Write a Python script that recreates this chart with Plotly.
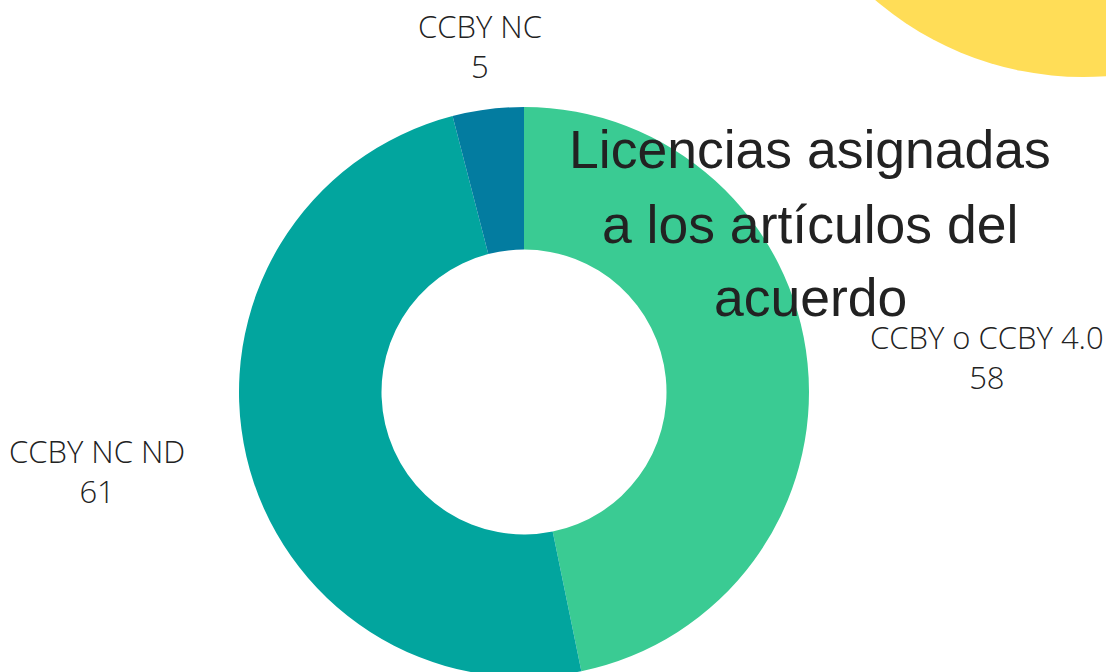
import plotly.graph_objects as go

# Data
licenses = ["CCBY o CCBY 4.0", "CCBY NC ND", "CCBY NC"]
counts = [58, 61, 5]
title_lines = ["Licencias asignadas", "a los artículos del", "acuerdo"]

# Styles
slice_colors = ["#3ACB93", "#02A59E", "#037CA0"]
W, H = 1106, 677
cx, cy, R = 524, 392, 285  # pixel centre / radius (from top)

fig = go.Figure()
fig.add_trace(go.Pie(
    labels=licenses,
    values=counts,
    hole=0.5,
    sort=False,
    direction="clockwise",
    rotation=0,
    marker=dict(colors=slice_colors, line=dict(width=0)),
    textinfo="none",
    hoverinfo="label+value",
    showlegend=False,
    domain=dict(x=[(cx - R) / W, (cx + R) / W], y=[(H - cy - R) / H, (H - cy + R) / H]),
))

# outside labels (pixel positions of the label centres)
label_pos = [(987, 357), (97, 471), (480, 46)]
for name, val, (px, py) in zip(licenses, counts, label_pos):
    fig.add_annotation(
        x=px / W, y=1 - py / H, xref="paper", yref="paper",
        text=f"{name}<br>{val}", showarrow=False,
        xanchor="center", yanchor="middle", align="center",
        font=dict(family="Open Sans", weight=300, size=31, color="#222222"),
    )

# title lines
title_pos = [(810, 150), (810, 224), (810, 297)]
for line, (px, py) in zip(title_lines, title_pos):
    fig.add_annotation(
        x=px / W, y=1 - py / H, xref="paper", yref="paper",
        text=line, showarrow=False, xanchor="center", yanchor="middle",
        font=dict(family="Liberation Sans", size=53.5, color="#222222"),
    )

# decorative yellow circle top-right
ccx, ccy, cr = 1083, -242, 319
fig.add_shape(
    type="circle", xref="paper", yref="paper", layer="below",
    x0=(ccx - cr) / W, x1=(ccx + cr) / W,
    y0=1 - (ccy + cr) / H, y1=1 - (ccy - cr) / H,
    fillcolor="#FFDD57", line=dict(width=0),
)

fig.update_layout(
    width=W, height=H,
    margin=dict(l=0, r=0, t=0, b=0),
    paper_bgcolor="white", plot_bgcolor="white",
)

fig.write_html(
    "out.html",
    config={"displayModeBar": False},
    post_script="document.body.style.margin='0';document.body.style.overflow='hidden';document.documentElement.style.overflow='hidden';",
)
